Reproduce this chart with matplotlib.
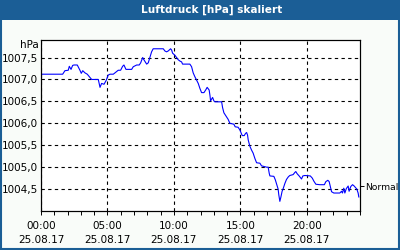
import matplotlib
matplotlib.use("Agg")
import matplotlib.pyplot as plt
from matplotlib.patches import Rectangle
from matplotlib.ticker import MultipleLocator

# Luftdruck-Verlauf 25.08.17 (Stunden, hPa)
hours = [0.0, 0.05, 1.63, 1.80, 2.05, 2.13, 2.26, 2.38, 2.48, 2.73, 2.93, 3.03, 3.14, 3.31, 3.48,
         3.81, 4.31, 4.44, 4.56, 4.74, 4.89, 5.06, 5.19, 5.44, 5.64, 5.81, 5.99, 6.14, 6.24, 6.39,
         6.82, 6.94, 7.20, 7.39, 7.50, 7.65, 7.74, 7.95, 8.07, 8.20, 8.32, 8.44, 9.20, 9.32, 9.45,
         9.57, 9.75, 9.83, 9.90, 10.08, 10.20, 10.32, 10.45, 10.58, 10.65, 11.20, 11.33, 11.45,
         11.58, 11.71, 11.83, 11.95, 12.08, 12.26, 12.41, 12.50, 12.65, 12.71, 12.76, 12.83, 12.91,
         13.01, 13.08, 13.59, 13.66, 13.76, 13.91, 14.08, 14.21, 14.51, 14.61, 14.83, 14.96, 15.04,
         15.14, 15.29, 15.39, 15.47, 15.54, 15.59, 15.71, 15.84, 15.96, 16.09, 16.22, 16.47, 16.59,
         16.97, 17.09, 17.17, 17.22, 17.52, 17.63, 17.72, 17.84, 17.89, 17.97, 18.05, 18.14, 18.22,
         18.35, 18.47, 18.61, 18.72, 18.97, 19.10, 19.17, 19.27, 19.42, 19.60, 19.70, 19.85, 20.26,
         20.41, 20.53, 20.68, 20.98, 21.32, 21.43, 21.58, 21.68, 21.77, 21.86, 22.03, 22.48, 22.61,
         22.68, 22.78, 22.86, 22.97, 23.11, 23.18, 23.31, 23.44, 23.56, 23.65, 23.76, 23.86, 23.91]
pressure = [1007.04, 1007.12, 1007.12, 1007.20, 1007.21, 1007.30, 1007.23, 1007.32, 1007.33,
            1007.33, 1007.21, 1007.14, 1007.20, 1007.15, 1007.12, 1007.00, 1007.00, 1006.82,
            1006.91, 1006.89, 1006.97, 1007.10, 1007.12, 1007.12, 1007.17, 1007.21, 1007.21,
            1007.30, 1007.33, 1007.23, 1007.23, 1007.29, 1007.33, 1007.33, 1007.38, 1007.50,
            1007.45, 1007.35, 1007.38, 1007.51, 1007.63, 1007.70, 1007.70, 1007.65, 1007.63,
            1007.65, 1007.70, 1007.67, 1007.60, 1007.55, 1007.50, 1007.45, 1007.42, 1007.40,
            1007.35, 1007.35, 1007.29, 1007.15, 1007.06, 1006.98, 1006.91, 1006.80, 1006.70,
            1006.70, 1006.77, 1006.82, 1006.76, 1006.64, 1006.51, 1006.55, 1006.59, 1006.51,
            1006.49, 1006.49, 1006.36, 1006.24, 1006.17, 1006.09, 1006.00, 1005.98, 1005.92,
            1005.91, 1005.85, 1005.79, 1005.72, 1005.72, 1005.77, 1005.79, 1005.73, 1005.62,
            1005.48, 1005.39, 1005.32, 1005.20, 1005.10, 1005.09, 1005.03, 1005.00, 1005.00,
            1004.86, 1004.80, 1004.79, 1004.71, 1004.62, 1004.50, 1004.37, 1004.22, 1004.32,
            1004.45, 1004.51, 1004.63, 1004.72, 1004.78, 1004.81, 1004.83, 1004.88, 1004.90,
            1004.85, 1004.80, 1004.73, 1004.80, 1004.81, 1004.80, 1004.75, 1004.68, 1004.61,
            1004.60, 1004.60, 1004.67, 1004.70, 1004.67, 1004.55, 1004.44, 1004.41, 1004.41,
            1004.45, 1004.41, 1004.52, 1004.41, 1004.51, 1004.57, 1004.45, 1004.56, 1004.60,
            1004.57, 1004.54, 1004.50, 1004.41, 1004.32]

x_ticks = [0, 5, 10, 15, 20]
x_labels = ["00:00\n25.08.17", "05:00\n25.08.17", "10:00\n25.08.17",
            "15:00\n25.08.17", "20:00\n25.08.17"]
y_ticks = [1004.5, 1005.0, 1005.5, 1006.0, 1006.5, 1007.0, 1007.5]
y_labels = ["1004,5", "1005,0", "1005,5", "1006,0", "1006,5", "1007,0", "1007,5"]
normal_level = 1004.56

blue = "#1b5e96"
plt.rcParams["font.family"] = "DejaVu Sans"

fig = plt.figure(figsize=(4, 2.5), dpi=100, facecolor="#f9fcf9")
fig.patches.append(Rectangle((0, 0.92), 1, 0.08, transform=fig.transFigure,
                             facecolor=blue, edgecolor="none", zorder=0))
fig.patches.append(Rectangle((0.002, 0.004), 0.995, 0.99, transform=fig.transFigure,
                             facecolor="none", edgecolor=blue, linewidth=1.5, zorder=0))
fig.text(0.53, 0.96, "Luftdruck [hPa] skaliert", color="white", fontsize=7.6,
         fontweight="bold", ha="center", va="center")

ax = fig.add_axes([0.1025, 0.156, 0.7975, 0.684])
ax.set_facecolor("white")
ax.plot(hours, pressure, color="#0000ff", linewidth=0.8)

ax.set_xlim(0, 24)
ax.set_ylim(1004.0, 1007.9)
ax.set_xticks(x_ticks)
ax.set_xticklabels(x_labels, fontsize=7.5, linespacing=1.5)
ax.xaxis.set_minor_locator(MultipleLocator(1))
ax.set_yticks(y_ticks)
ax.set_yticklabels(y_labels, fontsize=7.5)
ax.tick_params(axis="x", which="both", direction="out", length=3, width=0.7, pad=4)
ax.tick_params(axis="y", length=0, pad=2)

ax.grid(True, which="major", color="black", linestyle=(0, (3, 3)), linewidth=0.8)
for s in ax.spines.values():
    s.set_linewidth(0.8)

fig.text(0.097, 0.82, "hPa", fontsize=7.5, ha="right", va="center")

# Normal marker on right axis
ax2 = ax.twinx()
ax2.set_ylim(ax.get_ylim())
ax2.set_yticks([normal_level])
ax2.set_yticklabels(["Normal"], fontsize=6.6)
ax2.tick_params(axis="y", length=3, width=0.7, pad=0.5)

fig.savefig("out.png", dpi=100, facecolor=fig.get_facecolor())
